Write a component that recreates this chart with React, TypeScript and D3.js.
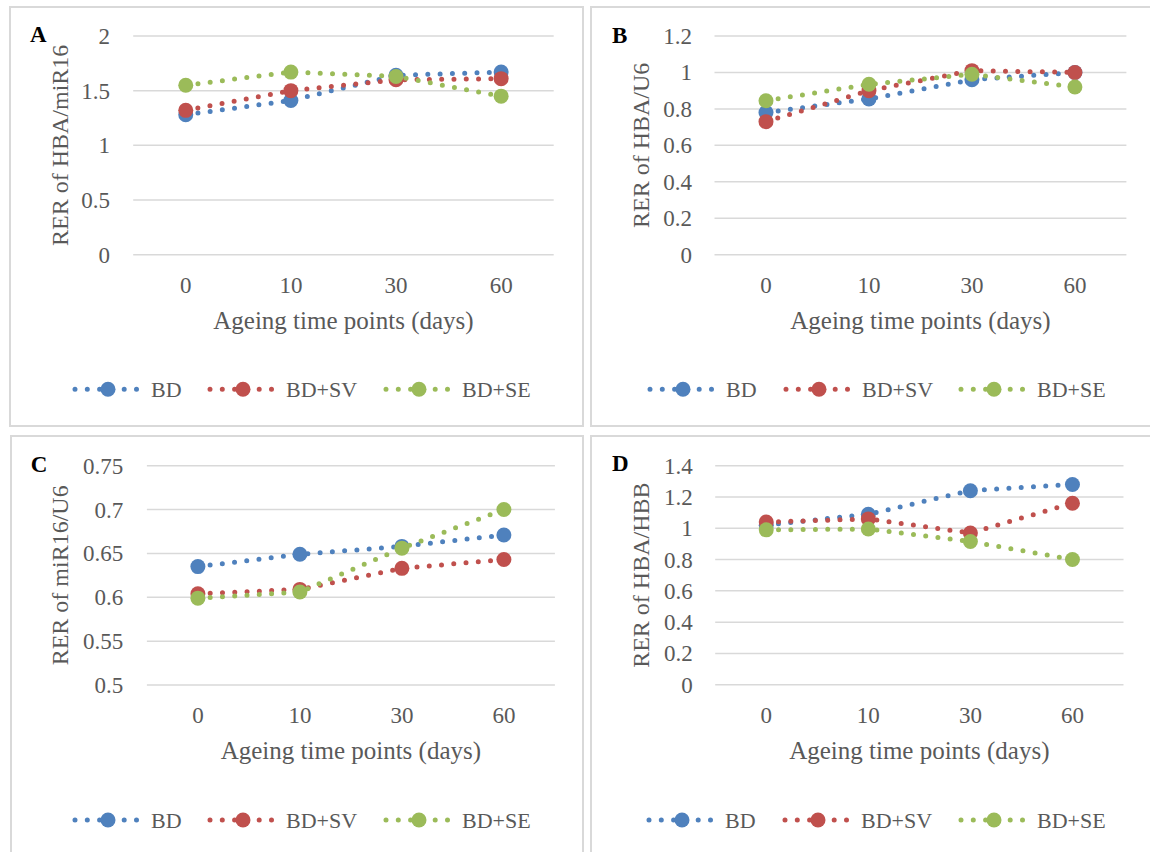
import * as d3 from "d3";

// x categories (ageing days) and series
const categories = ["0", "10", "30", "60"];
const seriesNames = ["BD", "BD+SV", "BD+SE"];
const seriesColors = ["#4F81BD", "#C0504D", "#9BBB59"];

// panel A: RER of HBA/miR16
const aBD = [1.28, 1.41, 1.64, 1.67];
const aSV = [1.32, 1.5, 1.6, 1.61];
const aSE = [1.55, 1.67, 1.63, 1.45];
const aTicks = [0, 0.5, 1, 1.5, 2];

// panel B: RER of HBA/U6
const bBD = [0.78, 0.855, 0.96, 1.0];
const bSV = [0.73, 0.9, 1.01, 1.0];
const bSE = [0.845, 0.935, 0.99, 0.92];
const bTicks = [0, 0.2, 0.4, 0.6, 0.8, 1, 1.2];

// panel C: RER of miR16/U6
const cBD = [0.635, 0.649, 0.658, 0.671];
const cSV = [0.604, 0.609, 0.633, 0.643];
const cSE = [0.599, 0.606, 0.656, 0.7];
const cTicks = [0.5, 0.55, 0.6, 0.65, 0.7, 0.75];

// panel D: RER of HBA/HBB
const dBD = [1.02, 1.09, 1.24, 1.28];
const dSV = [1.04, 1.06, 0.97, 1.16];
const dSE = [0.99, 0.995, 0.915, 0.8];
const dTicks = [0, 0.2, 0.4, 0.6, 0.8, 1, 1.2, 1.4];

const FONT = "'Liberation Serif', 'Times New Roman', serif";
const INK = "#595959";
const GRID = "#D9D9D9";

type Layout = {
  box: [number, number, number, number];
  x0: number;
  x1: number;
  yTop: number;
  yBot: number;
  yLabelX: number;
  yTitleX: number;
  letterX: number;
  letterY: number;
  xTickY: number;
  xTitleY: number;
  legendY: number;
  legendStarts: number[];
};

const panels: {
  letter: string;
  yTitle: string;
  series: number[][];
  ticks: number[];
  layout: Layout;
}[] = [
  {
    letter: "A",
    yTitle: "RER of HBA/miR16",
    series: [aBD, aSV, aSE],
    ticks: aTicks,
    layout: {
      box: [10, 7, 573, 419],
      x0: 133.2, x1: 553.7, yTop: 36, yBot: 254.7,
      yLabelX: 110, yTitleX: 68, letterX: 30, letterY: 42,
      xTickY: 293.3, xTitleY: 329.3, legendY: 389.3,
      legendStarts: [74, 209, 385],
    },
  },
  {
    letter: "B",
    yTitle: "RER of HBA/U6",
    series: [bBD, bSV, bSE],
    ticks: bTicks,
    layout: {
      box: [591, 7, 580, 419],
      x0: 714.5, x1: 1126.4, yTop: 36, yBot: 254.7,
      yLabelX: 692, yTitleX: 649, letterX: 612, letterY: 42.7,
      xTickY: 293.3, xTitleY: 329.3, legendY: 389.3,
      legendStarts: [649, 785, 960],
    },
  },
  {
    letter: "C",
    yTitle: "RER of miR16/U6",
    series: [cBD, cSV, cSE],
    ticks: cTicks,
    layout: {
      box: [11, 436, 572, 430],
      x0: 146.9, x1: 554.9, yTop: 465.7, yBot: 685,
      yLabelX: 123.2, yTitleX: 68, letterX: 30.7, letterY: 471.7,
      xTickY: 723.3, xTitleY: 759.3, legendY: 820,
      legendStarts: [74, 209, 385],
    },
  },
  {
    letter: "D",
    yTitle: "RER of HBA/HBB",
    series: [dBD, dSV, dSE],
    ticks: dTicks,
    layout: {
      box: [591, 436, 580, 430],
      x0: 715.2, x1: 1123.5, yTop: 465.7, yBot: 684.7,
      yLabelX: 692.7, yTitleX: 649, letterX: 612, letterY: 471,
      xTickY: 722.7, xTitleY: 759, legendY: 820,
      legendStarts: [648, 784, 960],
    },
  },
];

const DOTS = { strokeWidth: 5, strokeDasharray: "0 12.3", strokeLinecap: "round" as const };

function Panel({ p }: { p: (typeof panels)[number] }) {
  const L = p.layout;
  const x = d3.scalePoint<string>().domain(categories).range([L.x0, L.x1]).padding(0.5);
  const y = d3
    .scaleLinear()
    .domain(d3.extent(p.ticks) as [number, number])
    .range([L.yBot, L.yTop]);
  const line = d3
    .line<number>()
    .x((_, i) => x(categories[i])!)
    .y((v) => y(v));

  return (
    <g>
      <rect
        x={L.box[0]}
        y={L.box[1]}
        width={L.box[2]}
        height={L.box[3]}
        fill="#fff"
        stroke="#D9D9D9"
        strokeWidth={2}
      />
      {p.ticks.map((t) => (
        <g key={t}>
          <line x1={L.x0} x2={L.x1} y1={y(t)} y2={y(t)} stroke={GRID} strokeWidth={1.5} />
          <text x={L.yLabelX} y={y(t) + 8} textAnchor="end" fontSize={23} fill={INK}>
            {String(t)}
          </text>
        </g>
      ))}
      {categories.map((c) => (
        <text key={c} x={x(c)} y={L.xTickY} textAnchor="middle" fontSize={23} fill={INK}>
          {c}
        </text>
      ))}
      <text
        x={(L.x0 + L.x1) / 2}
        y={L.xTitleY}
        textAnchor="middle"
        fontSize={25}
        fill={INK}
      >
        Ageing time points (days)
      </text>
      <text
        transform={`translate(${L.yTitleX},${(L.yTop + L.yBot) / 2}) rotate(-90)`}
        textAnchor="middle"
        fontSize={24}
        fill={INK}
      >
        {p.yTitle}
      </text>
      <text x={L.letterX} y={L.letterY} fontSize={23} fontWeight="bold" fill="#000">
        {p.letter}
      </text>
      {p.series.map((vals, si) => (
        <g key={seriesNames[si]}>
          <path d={line(vals) ?? undefined} fill="none" stroke={seriesColors[si]} {...DOTS} />
          {vals.map((v, i) => (
            <circle key={i} cx={x(categories[i])} cy={y(v)} r={7.5} fill={seriesColors[si]} />
          ))}
        </g>
      ))}
      {seriesNames.map((name, si) => {
        const s = L.legendStarts[si];
        return (
          <g key={name}>
            <line
              x1={s + 1}
              x2={s + 65}
              y1={L.legendY}
              y2={L.legendY}
              stroke={seriesColors[si]}
              {...DOTS}
            />
            <circle cx={s + 34} cy={L.legendY} r={7.5} fill={seriesColors[si]} />
            <text x={s + 77} y={L.legendY + 8} fontSize={22} fill={INK}>
              {name}
            </text>
          </g>
        );
      })}
    </g>
  );
}

export default function App() {
  return (
    <svg
      width={1150}
      height={852}
      style={{ position: "absolute", left: 0, top: 0, fontFamily: FONT }}
      fontFamily={FONT}
    >
      <rect width={1150} height={852} fill="#fff" />
      {panels.map((p) => (
        <Panel key={p.letter} p={p} />
      ))}
    </svg>
  );
}
